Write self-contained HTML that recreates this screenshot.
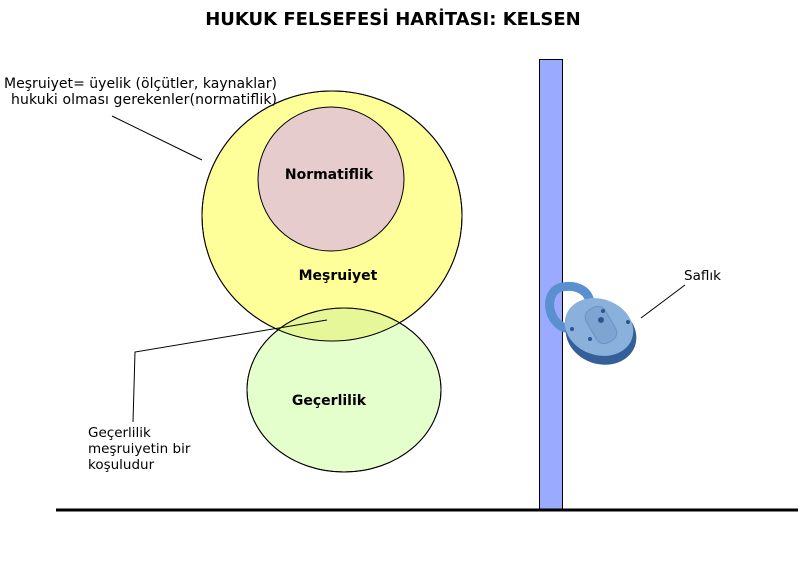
<!DOCTYPE html>
<html><head><meta charset="utf-8"><style>
body{margin:0;background:#fff}
svg text{font-family:"DejaVu Sans","Liberation Sans",sans-serif}
</style></head><body>
<svg width="806" height="561" viewBox="0 0 806 561" xmlns="http://www.w3.org/2000/svg">
<defs><clipPath id="cy"><ellipse cx="332" cy="216" rx="130" ry="125"/></clipPath></defs>
<rect width="806" height="561" fill="#fff"/>
<text x="393" y="25" font-size="18" font-weight="bold" text-anchor="middle" fill="#000">HUKUK FELSEFESİ HARİTASI: KELSEN</text>
<ellipse cx="332" cy="216" rx="130" ry="125" fill="#ffff99" stroke="#000" stroke-width="1"/>
<ellipse cx="344" cy="390" rx="97" ry="82" fill="#e5ffcc" stroke="#000" stroke-width="1"/>
<ellipse cx="344" cy="390" rx="97" ry="82" fill="#e6f79a" clip-path="url(#cy)"/>
<ellipse cx="344" cy="390" rx="97" ry="82" fill="none" stroke="#000" stroke-width="1"/>
<ellipse cx="332" cy="216" rx="130" ry="125" fill="none" stroke="#000" stroke-width="1"/>
<ellipse cx="331" cy="179" rx="73" ry="72" fill="#e6cccc" stroke="#000" stroke-width="1"/>
<text x="329" y="179" font-size="14" font-weight="bold" text-anchor="middle">Normatiflik</text>
<text x="338" y="280" font-size="14" font-weight="bold" text-anchor="middle">Meşruiyet</text>
<text x="329" y="405" font-size="14" font-weight="bold" text-anchor="middle">Geçerlilik</text>
<text x="4" y="88" font-size="14" textLength="273">Meşruiyet= üyelik (ölçütler, kaynaklar)</text>
<text x="11" y="104" font-size="14" textLength="266">hukuki olması gerekenler(normatiflik)</text>
<line x1="112" y1="116" x2="202" y2="160" stroke="#000" stroke-width="1"/>
<polyline points="327,320 135,352 133,422" fill="none" stroke="#000" stroke-width="1"/>
<text x="88" y="437" font-size="13.5">Geçerlilik</text>
<text x="88" y="453" font-size="13.5">meşruiyetin bir</text>
<text x="88" y="469" font-size="13.5">koşuludur</text>
<rect x="539.5" y="59.5" width="23" height="450" fill="#99aaff" stroke="#000" stroke-width="1"/>
<line x1="56" y1="510" x2="798" y2="510" stroke="#000" stroke-width="3"/>
<path d="M 565 328 C 545 320 545 290 562 287 C 578 284 590 292 590 304" fill="none" stroke="#5a8fd0" stroke-width="9" stroke-linecap="round"/>
<ellipse cx="601" cy="334" rx="36" ry="30" fill="#345f98" transform="rotate(20 601 334)"/>
<ellipse cx="599" cy="327" rx="35" ry="28" fill="#8ab0dc" transform="rotate(20 599 327)"/>
<rect x="590" y="306" width="22" height="38" rx="9" fill="#7ea4d2" stroke="#6a92c4" transform="rotate(-30 601 325)"/>
<circle cx="601" cy="320" r="3" fill="#2d5590"/><circle cx="572" cy="329" r="2" fill="#2d5590"/><circle cx="590" cy="339" r="2" fill="#2d5590"/><circle cx="628" cy="322" r="2" fill="#2d5590"/><circle cx="603" cy="311" r="2" fill="#2d5590"/>
<line x1="641" y1="318" x2="685" y2="285" stroke="#000" stroke-width="1"/>
<text x="684" y="280" font-size="13.5">Saflık</text>
</svg>
</body></html>
